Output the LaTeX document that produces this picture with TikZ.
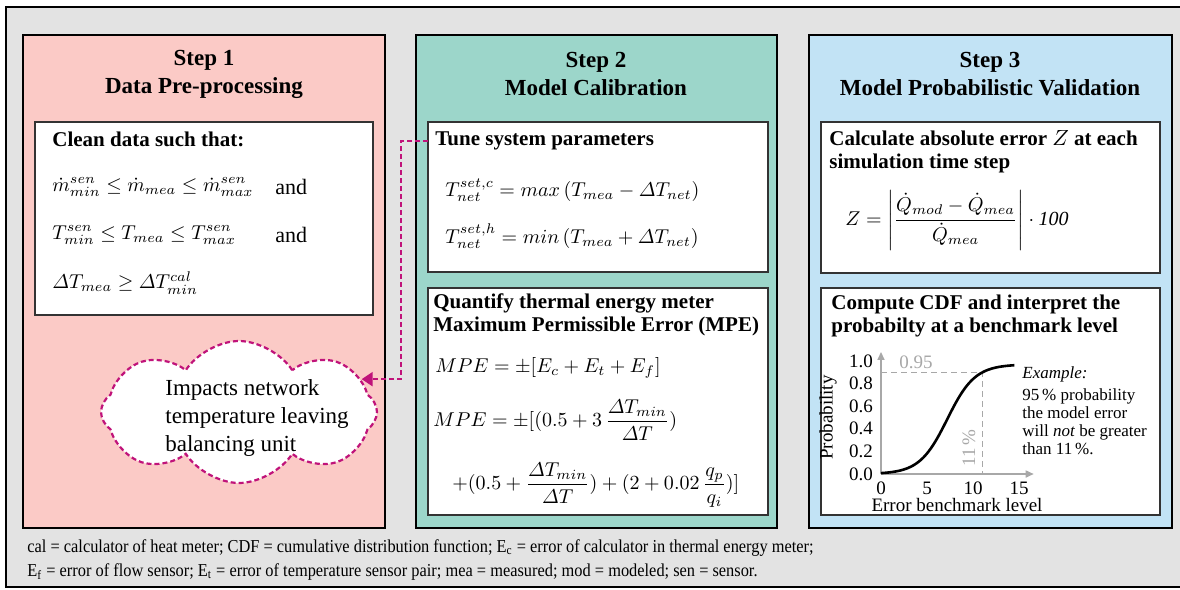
\documentclass[tikz,border=0pt]{standalone}
\usepackage{fontspec}
\setmainfont{Liberation Serif}
\newfontfamily\notefont[FakeStretch=0.9]{Liberation Serif}
\usepackage{amsmath}
\usetikzlibrary{arrows.meta, positioning, shapes.symbols, calc}
\definecolor{framegray}{HTML}{E3E3E3}
\definecolor{stepone}{HTML}{FBCAC6}
\definecolor{steptwo}{HTML}{9CD6CA}
\definecolor{stepthree}{HTML}{C2E3F5}
\definecolor{linkpink}{HTML}{C0137A}
\definecolor{axisgray}{HTML}{A8A8A8}
\newcommand{\dT}{\varDelta T}
\tikzset{
  panel/.style={draw=black, line width=1.2pt},
  card/.style={draw=black!80, line width=0.8pt, fill=white},
  headline/.style={font=\fontsize{11.5}{14}\selectfont\bfseries, align=center, inner sep=0},
  cardtitle/.style={font=\fontsize{10.5}{11.5}\selectfont\bfseries, align=left, anchor=west, inner sep=0},
  eqn/.style={font=\fontsize{10}{12}\selectfont, anchor=west, inner sep=0},
  link/.style={draw=linkpink, line width=1.1pt, dash pattern=on 2.5pt off 1.5pt},
  axisline/.style={draw=axisgray, line width=0.8pt, -{Triangle[length=4pt,width=3.5pt]}},
  guide/.style={draw=axisgray, line width=0.6pt, dash pattern=on 3pt off 2pt},
  ticklabel/.style={font=\fontsize{9.5}{11}\selectfont, inner sep=0},
}
\begin{document}
\begin{tikzpicture}[x=0.5pt, y=-0.5pt]
\useasboundingbox (0,0) rectangle (1180,590);
\draw[line width=1.4pt, fill=framegray] (6,7) rectangle (1190,587);
% the three steps
\draw[panel, fill=stepone] (23,35) rectangle (385,528);
\draw[panel, fill=steptwo] (416,35) rectangle (777,528);
\draw[panel, fill=stepthree] (809,35) rectangle (1172,528);
\node[headline] (head1) at (204,74) {Step 1\\Data Pre-processing};
\node[headline] (head2) at (596,74) {Step 2\\Model Calibration};
\node[headline] (head3) at (990,74) {Step 3\\Model Probabilistic Validation};

% step 1
\draw[card] (35,122) rectangle (373,315);
\node[cardtitle] (clean) at (52,139) {Clean data such that:};
\node[eqn] (flowrange) at (52,187) {$\dot{m}^{sen}_{min} \leq \dot{m}_{mea} \leq \dot{m}^{sen}_{max}$};
\node[eqn, font=\fontsize{11}{13}\selectfont] (and1) at (275,187) {and};
\node[eqn] (temprange) at (52,235) {$T^{sen}_{min} \leq T_{mea} \leq T^{sen}_{max}$};
\node[eqn, font=\fontsize{11}{13}\selectfont] (and2) at (275,235) {and};
\node[eqn] (deltarange) at (52,283) {$\dT_{mea} \geq \dT^{cal}_{min}$};
\node[cloud, cloud puffs=8, cloud puff arc=115, cloud ignores aspect, draw=linkpink, line width=1.1pt,
  dash pattern=on 2.5pt off 1.5pt, fill=white, minimum width=138pt, minimum height=71pt]
  (cloud) at (239,412) {};
\node[font=\fontsize{11.5}{14}\selectfont, align=left, inner sep=0] (cloudtext) at (257,418)
  {Impacts network\\temperature leaving\\balancing unit};

% step 2
\draw[card] (428,122) coordinate (tunecard) rectangle (768,272);
\node[cardtitle] (tunetitle) at (435,141) {Tune system parameters};
\node[eqn] (setc) at (445,190) {$T^{set,c}_{net} = max\,(T_{mea} - \dT_{net})$};
\node[eqn] (seth) at (445,236) {$T^{set,h}_{net} = min\,(T_{mea} + \dT_{net})$};
\draw[card] (428,288) rectangle (768,515);
\node[cardtitle] (mpetitle) at (433,315) {Quantify thermal energy meter\\Maximum Permissible Error (MPE)};
\node[eqn] (mpesum) at (435,368) {$MPE = \pm[E_c + E_t + E_f]$};
\node[eqn] (mpeone) at (433,420) {$MPE = \pm[(0.5 + 3\,\dfrac{\dT_{min}}{\dT})$};
\node[eqn] (mpetwo) at (452,485) {$+(0.5 + \dfrac{\dT_{min}}{\dT}) + (2 + 0.02\,\dfrac{q_p}{q_i})]$};

\coordinate (bend) at (401,300);
\draw[link, -{Triangle[length=5.5pt,width=7pt]}] (tunecard |- tunetitle) -| (bend) |- (cloud.15);

% step 3
\draw[card] (821,122) rectangle (1160,273);
\node[cardtitle] (errtitle) at (829,152) {Calculate absolute error $Z$ at each\\simulation time step};
\node[eqn] (zeq) at (845,220) {$Z = \left|\dfrac{\dot{Q}_{mod} - \dot{Q}_{mea}}{\dot{Q}_{mea}}\right| \cdot \mathit{100}$};
\draw[card] (821,288) rectangle (1160,515);
\node[cardtitle] (cdftitle) at (831,316) {Compute CDF and interpret the\\probabilty at a benchmark level};

\coordinate (origin) at (881,474);
\begin{scope}[shift={(origin)}, x=4.6pt, y=56.5pt]
  \draw[axisline] (0,0) -- (16.6,0);
  \draw[axisline] (0,0) -- (0,1.08);
  \draw[guide] (0,0.9) -- (11,0.9) -- (11,0);
  \draw[line width=1.3pt] plot[domain=0:14.5, samples=60, smooth] (\x,{0.97/(1+exp(-(\x-7.2)/1.5))});
  \foreach \v/\n in {0.0/0, 0.2/1, 0.4/2, 0.6/3, 0.8/4, 1.0/5}
    \node[ticklabel, anchor=east] (ytick\n) at (-0.85,\v) {\v};
  \foreach \v in {0,5,10,15}
    \node[ticklabel, anchor=north] (xtick\v) at (\v,-0.07) {\v};
  \node[ticklabel] (xlabel) at (8.26,-0.27) {Error benchmark level};
  \node[ticklabel, rotate=90] (ylabel) at (-5.76,0.5) {Probability};
  \node[ticklabel, text=axisgray] (level) at (3.8,0.99) {0.95};
  \node[ticklabel, text=axisgray, rotate=90] (bench) at (9.57,0.23) {11\,\%};
\end{scope}
\node[font=\fontsize{8.5}{9}\selectfont, align=left, anchor=north west, inner sep=0] (example) at (1022,366)
  {\textit{Example:}\\[2pt]95\,\% probability\\the model error\\will \textit{not} be greater\\than 11\,\%.};

% abbreviations
\node[font=\notefont\fontsize{9.1}{12}\selectfont, align=left, anchor=west, inner sep=0] (notes) at (27,560)
  {cal = calculator of heat meter; CDF = cumulative distribution function; E\textsubscript{c} = error of calculator in thermal energy meter;\\
   E\textsubscript{f} = error of flow sensor; E\textsubscript{t} = error of temperature sensor pair; mea = measured; mod = modeled; sen = sensor.};
\end{tikzpicture}
\end{document}
